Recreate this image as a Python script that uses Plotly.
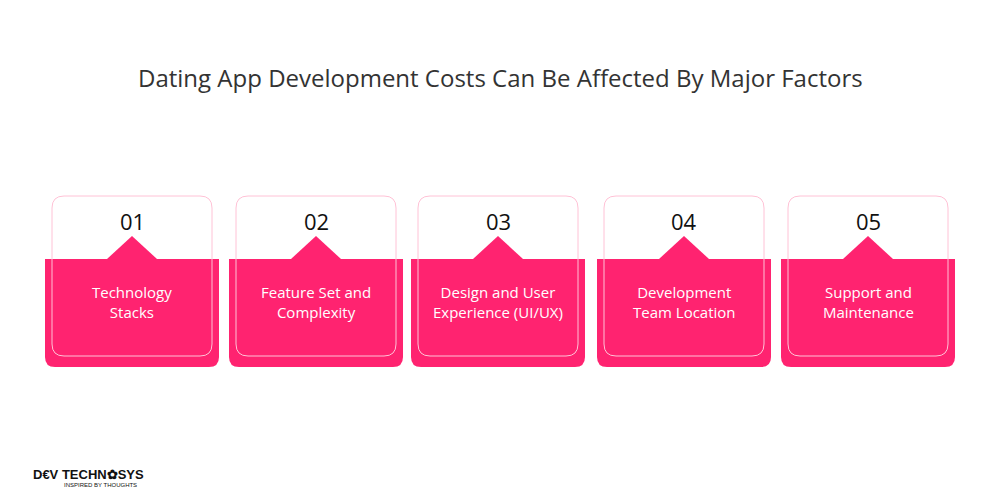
import plotly.graph_objects as go

numbers = ["01", "02", "03", "04", "05"]
labels = ["Technology<br>Stacks", "Feature Set and<br>Complexity", "Design and User<br>Experience (UI/UX)",
          "Development<br>Team Location", "Support and<br>Maintenance"]
centers = [132, 316, 498, 684, 868]
title = "Dating App Development Costs Can Be Affected By Major Factors"

PINK = "#FF2370"
DX, DY = -8, -8  # page offset compensation

def rrect(x0, y0, x1, y1, r, top=True, bottom=True):
    x0 += DX; x1 += DX; y0 += DY; y1 += DY
    rt = r if top else 0
    rb = r if bottom else 0
    p = f"M {x0+rt},{y0} L {x1-rt},{y0} "
    if rt: p += f"Q {x1},{y0} {x1},{y0+rt} "
    p += f"L {x1},{y1-rb} "
    if rb: p += f"Q {x1},{y1} {x1-rb},{y1} "
    p += f"L {x0+rb},{y1} "
    if rb: p += f"Q {x0},{y1} {x0},{y1-rb} "
    p += f"L {x0},{y0+rt} "
    if rt: p += f"Q {x0},{y0} {x0+rt},{y0} "
    return p + "Z"

fig = go.Figure()
shapes, anns = [], []
for c, n, lab in zip(centers, numbers, labels):
    shapes.append(dict(type="path", path=rrect(c-87, 259, c+87, 367, 10, top=False),
                       fillcolor=PINK, line=dict(width=0), layer="below"))
    shapes.append(dict(type="path", path=f"M {c-25+DX},{259+DY} L {c+DX},{236+DY} L {c+25+DX},{259+DY} Z",
                       fillcolor=PINK, line=dict(width=0), layer="below"))
    shapes.append(dict(type="path", path=rrect(c-80, 196, c+80, 356, 12),
                       fillcolor="rgba(0,0,0,0)", line=dict(color="#FFC2D6", width=1)))
    anns.append(dict(x=c+DX, y=221+DY, text=n, showarrow=False, font=dict(size=22, color="#111", family="Open Sans")))
    anns.append(dict(x=c+DX, y=302+DY, text=lab, showarrow=False, font=dict(size=15, color="white", family="Open Sans")))

anns.append(dict(x=500+DX, y=77+DY, text=title, showarrow=False, font=dict(size=24, color="#333", family="Open Sans")))
anns.append(dict(x=31+DX, y=474+DY, text="<b>D€V TECHN✿SYS</b>", showarrow=False, xanchor="left",
                 font=dict(size=13, color="#111", family="Liberation Sans")))
anns.append(dict(x=62+DX, y=485+DY, text="INSPIRED BY THOUGHTS", showarrow=False, xanchor="left",
                 font=dict(size=6, color="#111", family="Liberation Sans")))

fig.update_layout(width=1000, height=500, margin=dict(l=0, r=0, t=0, b=0),
                  plot_bgcolor="white", paper_bgcolor="white", shapes=shapes, annotations=anns,
                  xaxis=dict(range=[0, 1000], visible=False, fixedrange=True),
                  yaxis=dict(range=[500, 0], visible=False, fixedrange=True),
                  showlegend=False)
fig.write_html("out.html")
